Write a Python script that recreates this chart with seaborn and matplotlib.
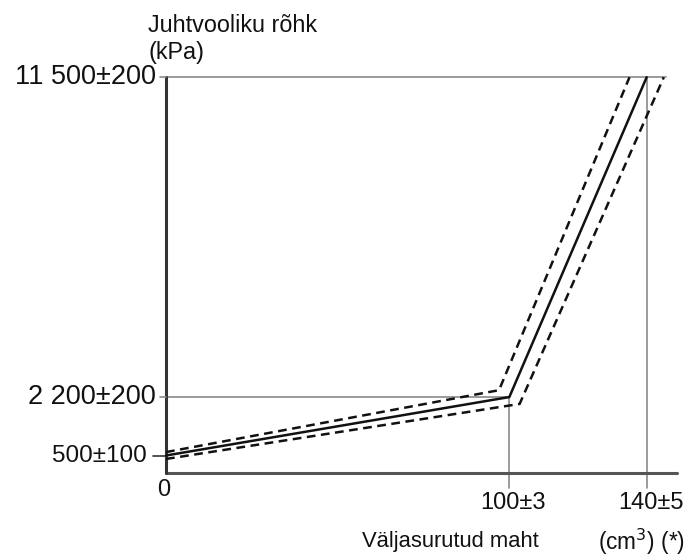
import matplotlib
matplotlib.use("Agg")
import matplotlib.pyplot as plt
import seaborn as sns
import pandas as pd

sns.set_theme(style="white")
plt.rcParams['font.family'] = ['Liberation Sans', 'DejaVu Sans']

# data
x_nom = [0, 100, 140]
y_nom = [500, 2200, 11500]
x_hi = [0, 97, 135]
y_hi = [600, 2400, 11500]
x_lo = [0, 103, 145]
y_lo = [400, 2000, 11500]
xtick_vals = [100, 140]
xtick_labels = ["100±3", "140±5"]
ytick_vals = [500, 2200, 11500]
ytick_labels = ["500±100", "2 200±200", "11 500±200"]

df = pd.concat([
    pd.DataFrame({"x": x_nom, "y": y_nom, "s": "nom"}),
    pd.DataFrame({"x": x_hi, "y": y_hi, "s": "hi"}),
    pd.DataFrame({"x": x_lo, "y": y_lo, "s": "lo"}),
])

fig = plt.figure(figsize=(6.88, 5.56), dpi=100)
ax = fig.add_axes([0.2413, 0.1498, 0.9898 - 0.2413, 0.892 - 0.1498])
ax.set_xlim(0, 150)
ax.set_ylim(0, 12000)
for s in ax.spines.values():
    s.set_visible(False)
ax.set_xticks([]); ax.set_yticks([])
ax.patch.set_alpha(0)

gray = "#8a8a8a"
# reference lines
ax.plot([0, x_nom[1]], [y_nom[1]] * 2, color=gray, lw=1.2)
ax.plot([0, 145.5], [y_nom[2]] * 2, color=gray, lw=1.2)
ax.plot([xtick_vals[0]] * 2, [-450, y_nom[1]], color=gray, lw=1.2, clip_on=False)
ax.plot([xtick_vals[1]] * 2, [-450, y_nom[2]], color=gray, lw=1.2, clip_on=False)
# axes lines
ax.plot([0, 148.7], [0, 0], color="#555555", lw=2.2, clip_on=False)
ax.plot([0, 0], [0, 11500], color="#333333", lw=2.2, clip_on=False)
# y tick marks
ax.plot([-1.8, 0], [y_nom[2]] * 2, color=gray, lw=1.2, clip_on=False)
ax.plot([-1.8, 0], [y_nom[1]] * 2, color=gray, lw=1.2, clip_on=False)
ax.plot([-3.8, 0], [y_nom[0]] * 2, color="#333333", lw=1.2, clip_on=False)

sns.lineplot(data=df, x="x", y="y", hue="s", style="s",
             palette={"nom": "#111111", "hi": "#111111", "lo": "#111111"},
             dashes={"nom": "", "hi": (3.5, 2.2), "lo": (3.5, 2.2)},
             sort=False, estimator=None, legend=False, lw=1.8, ax=ax,
             clip_on=False)
ax.set_xlabel(""); ax.set_ylabel("")

# tick labels
ax.text(-3, ytick_vals[2], ytick_labels[2], ha="right", va="center", fontsize=19.5, color="#111")
ax.text(-3, ytick_vals[1], ytick_labels[1], ha="right", va="center", fontsize=19.5, color="#111")
ax.text(-5.5, ytick_vals[0], ytick_labels[0], ha="right", va="center", fontsize=17.5, color="#111")
for v, l in zip(xtick_vals, xtick_labels):
    ax.text(v + 1.2, -880, l, ha="center", va="center", fontsize=17, color="#111")
ax.text(-0.6, -490, "0", ha="center", va="center", fontsize=17, color="#111")

fig.text(148 / 688, 1 - 25 / 556, "Juhtvooliku rõhk", ha="left", va="center", fontsize=16.8, color="#111")
fig.text(148 / 688, 1 - 53 / 556, "(kPa)", ha="left", va="center", fontsize=16.8, color="#111")
fig.text(362 / 688, 1 - 542 / 556, "Väljasurutud maht", ha="left", va="center", fontsize=15.8, color="#111")
fig.text(598 / 688, 1 - 542 / 556, "(cm$^3$) (*)", ha="left", va="center", fontsize=16.3, color="#111")

fig.savefig("out.png", dpi=100)
